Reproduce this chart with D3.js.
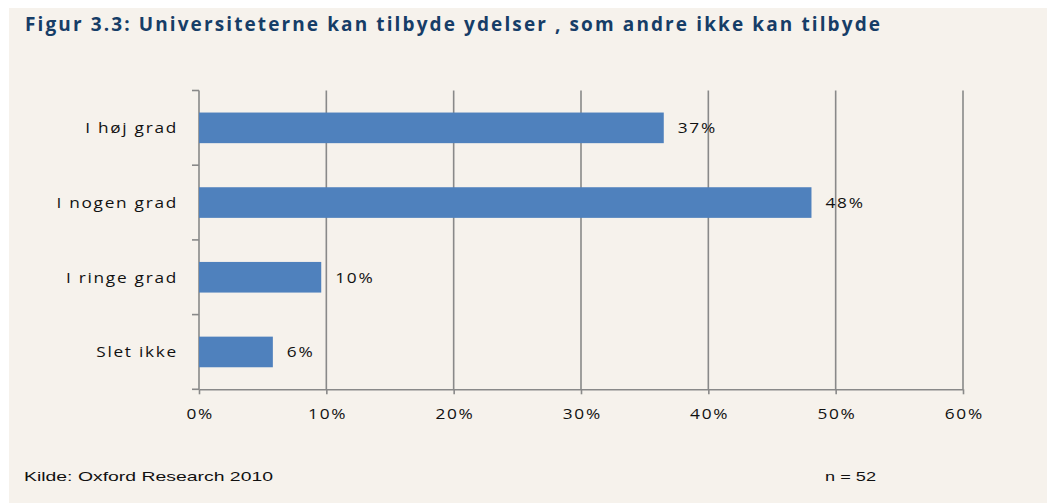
<!DOCTYPE html>
<html>
<head>
<meta charset="utf-8">
<script src="https://cdn.jsdelivr.net/npm/d3@7"></script>
<style>
  body { margin: 0; background: #ffffff; }
  svg { display: block; }
</style>
</head>
<body>
<div id="chart"></div>
<script>
(() => {

    // data
    var categories = ["I høj grad", "I nogen grad", "I ringe grad", "Slet ikke"];
    var values = [0.365, 0.481, 0.096, 0.058];
    var valueLabels = ["37%", "48%", "10%", "6%"];
    var xTicks = [0, 0.1, 0.2, 0.3, 0.4, 0.5, 0.6];

    var W = 1047, H = 503;
    var margin = { top: 90.5, left: 199, right: 84, bottom: 113.7 };
    var width = W - margin.left - margin.right,
        height = H - margin.top - margin.bottom;

    var svg = d3.select("#chart")
        .append("svg")
        .attr("width", W)
        .attr("height", H);

    // beige panel
    svg.append("rect")
        .attr("x", 9).attr("y", 8)
        .attr("width", W - 9).attr("height", H - 8)
        .style("fill", "#F6F2EC");

    svg.append("text")
        .attr("x", 25).attr("y", 31)
        .attr("textLength", 855)
        .attr("lengthAdjust", "spacing")
        .style("font-family", "Open Sans, sans-serif")
        .style("font-weight", "bold")
        .style("font-size", "19px")
        .style("fill", "#163D67")
        .text("Figur 3.3: Universiteterne kan tilbyde ydelser , som andre ikke kan tilbyde");

    var g = svg.append("g")
        .attr("transform", "translate(" + margin.left + "," + margin.top + ")");

    var x = d3.scaleLinear()
        .domain([0, 0.6])
        .range([0, width]);

    var y = d3.scaleBand()
        .domain(categories)
        .range([0, height])
        .paddingInner(0.59)
        .paddingOuter(0.295);

    var gridColor = "#898989";
    var labelFont = "Open Sans, sans-serif";
    var stretch = "scale(1.15,1)"; // labels in the original are wide

    // vertical gridlines
    g.selectAll(".grid")
        .data(xTicks.slice(1))
        .enter()
        .append("line")
        .attr("x1", function (d) { return x(d); })
        .attr("x2", function (d) { return x(d); })
        .attr("y1", 0)
        .attr("y2", height)
        .style("stroke", gridColor)
        .attr("stroke-width", 1.6);

    // x axis
    var xAxis = g.append("g")
        .attr("transform", "translate(0," + height + ")")
        .call(d3.axisBottom(x).tickValues(xTicks).tickFormat(d3.format(".0%")).tickSizeInner(5).tickSizeOuter(0).tickPadding(14));
    xAxis.select(".domain").style("stroke", gridColor).attr("stroke-width", 1.6);
    xAxis.selectAll(".tick line").style("stroke", gridColor).attr("stroke-width", 1.6);
    xAxis.selectAll("text")
        .attr("transform", stretch)
        .style("font-family", labelFont)
        .style("font-size", "15px")
        .style("letter-spacing", "1.5px")
        .attr("dx", "0.7px")
        .style("fill", "#111");

    // y axis: line, boundary ticks, labels
    var step = y.step();
    var bounds = d3.range(categories.length + 1).map(function (i) { return i * step; });

    g.append("line")
        .attr("x1", 0).attr("x2", 0)
        .attr("y1", 0).attr("y2", height)
        .style("stroke", gridColor)
        .attr("stroke-width", 1.6);

    g.selectAll(".ytick")
        .data(bounds)
        .enter()
        .append("line")
        .attr("x1", -7).attr("x2", 0)
        .attr("y1", function (d) { return d; })
        .attr("y2", function (d) { return d; })
        .style("stroke", gridColor)
        .attr("stroke-width", 1.6);

    g.selectAll(".ylabel")
        .data(categories)
        .enter()
        .append("text")
        .attr("transform", function (d) {
            return "translate(-21," + (y(d) + y.bandwidth() / 2) + ") " + stretch;
        })
        .attr("dy", "0.35em")
        .attr("text-anchor", "end")
        .style("font-family", labelFont)
        .style("font-size", "15px")
        .style("letter-spacing", "1.5px")
        .style("fill", "#111")
        .text(function (d) { return d; });

    // bars
    g.selectAll(".bar")
        .data(values)
        .enter()
        .append("rect")
        .attr("x", 0)
        .attr("y", function (d, i) { return y(categories[i]); })
        .attr("width", function (d) { return x(d); })
        .attr("height", y.bandwidth())
        .style("fill", "#4F81BD");

    // value labels
    g.selectAll(".vlabel")
        .data(values)
        .enter()
        .append("text")
        .attr("transform", function (d, i) {
            return "translate(" + (x(d) + 14) + "," + (y(categories[i]) + y.bandwidth() / 2) + ") " + stretch;
        })
        .attr("dy", "0.35em")
        .style("font-family", labelFont)
        .style("font-size", "15px")
        .style("letter-spacing", "1.5px")
        .style("fill", "#111")
        .text(function (d, i) { return valueLabels[i]; });

    // footer
    svg.append("text")
        .attr("x", 24).attr("y", 481)
        .attr("textLength", 249)
        .attr("lengthAdjust", "spacingAndGlyphs")
        .style("font-family", "Liberation Sans Narrow, Liberation Sans, sans-serif")
        .style("font-size", "13.5px")
        .style("fill", "#111")
        .text("Kilde: Oxford Research 2010");

    svg.append("text")
        .attr("x", 825).attr("y", 481)
        .attr("textLength", 51)
        .attr("lengthAdjust", "spacingAndGlyphs")
        .style("font-family", "Liberation Sans Narrow, Liberation Sans, sans-serif")
        .style("font-size", "13.5px")
        .style("fill", "#111")
        .text("n = 52");

})();
</script>
</body>
</html>
